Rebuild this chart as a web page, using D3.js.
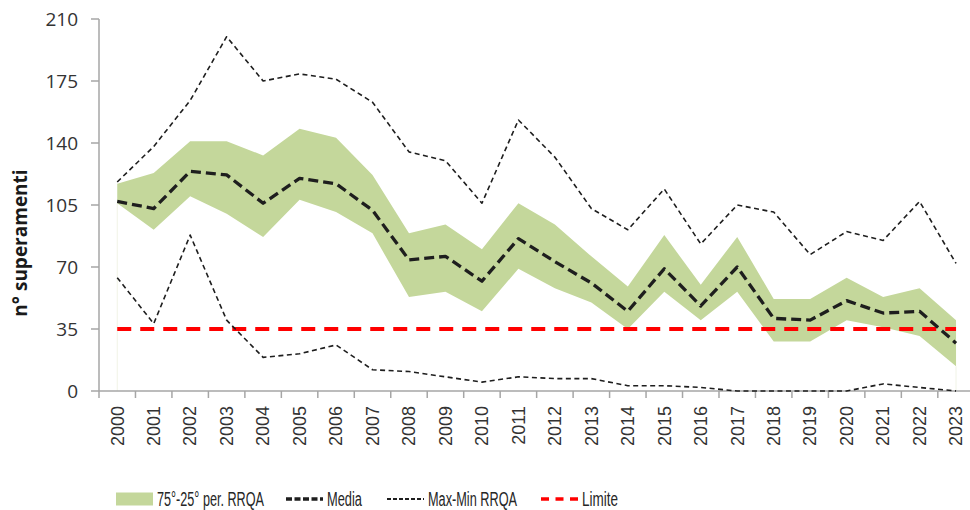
<!DOCTYPE html>
<html>
<head>
<meta charset="utf-8">
<script src="https://cdn.jsdelivr.net/npm/d3@7"></script>
<style>
  body { margin: 0; background: #fff; }
  svg { display: block; }
</style>
</head>
<body>
<div id="chart"></div>
<script>
const years = d3.range(2000, 2024).map(String);

// 75th and 25th percentile of the RRQA stations
const p75 = [117, 123, 141, 141, 133, 148, 143, 122, 89, 94, 80, 106, 94, 76, 59, 88, 60, 87, 52, 52, 64, 53, 58, 40];
const p25 = [106, 91, 110, 100, 87, 108, 101, 89, 53, 56, 45, 69, 58, 50, 35, 56, 40, 56, 28, 28, 40, 36, 31, 14];
const media = [107, 103, 124, 122, 106, 120, 117, 102, 74, 76, 62, 86, 73, 61, 45, 69, 48, 70, 41, 40, 51, 44, 45, 27];
const maxRRQA = [118, 138, 164, 200, 175, 179, 176, 163, 135, 130, 106, 153, 132, 103, 91, 114, 83, 105, 101, 77, 90, 85, 107, 72];
const minRRQA = [64, 38, 88, 40, 19, 21, 26, 12, 11, 8, 5, 8, 7, 7, 3, 3, 2, 0, 0, 0, 0, 4, 2, 0];
const limite = 35;

const yTicks = [0, 35, 70, 105, 140, 175, 210];
const legendItems = ["75°-25° per. RRQA", "Media", "Max-Min RRQA", "Limite"];

const width = 970,
  height = 510,
  plotLeft = 99,
  plotTop = 19,
  plotBottom = 391,
  step = 36.47;

const svg = d3
  .select("#chart")
  .append("svg")
  .attr("width", width)
  .attr("height", height);

const x = d3
  .scaleBand()
  .domain(years)
  .range([plotLeft, plotLeft + step * years.length]);

const y = d3.scaleLinear().domain([0, 210]).range([plotBottom, plotTop]);

const cx = (d) => x(d) + x.bandwidth() / 2;

const rows = years.map((d, i) => ({
  year: d,
  p75: p75[i],
  p25: p25[i],
  media: media[i],
  max: maxRRQA[i],
  min: minRRQA[i],
}));

// faint edges of the stacked area base
svg
  .selectAll(".edge")
  .data([rows[0], rows[rows.length - 1]])
  .join("line")
  .attr("x1", (d) => cx(d.year))
  .attr("x2", (d) => cx(d.year))
  .attr("y1", (d) => y(d.p25))
  .attr("y2", y(0))
  .style("stroke", "#f1f3e6")
  .style("stroke-width", 1);

// band
const area = d3
  .area()
  .x((d) => cx(d.year))
  .y0((d) => y(d.p25))
  .y1((d) => y(d.p75));

svg
  .append("path")
  .datum(rows)
  .attr("d", area)
  .style("fill", "#c4d79b");

// axes
const yAxis = svg.append("g");
yAxis
  .append("line")
  .attr("x1", plotLeft)
  .attr("x2", plotLeft)
  .attr("y1", y(210))
  .attr("y2", y(0))
  .style("stroke", "#a6a6a6")
  .style("stroke-width", 1.5);

yAxis
  .selectAll(".ytick")
  .data(yTicks)
  .join("line")
  .attr("x1", plotLeft - 8)
  .attr("x2", plotLeft)
  .attr("y1", (d) => y(d))
  .attr("y2", (d) => y(d))
  .style("stroke", "#a6a6a6")
  .style("stroke-width", 1.5);

yAxis
  .selectAll(".ylab")
  .data(yTicks)
  .join("text")
  .attr("x", plotLeft - 21)
  .attr("y", (d) => y(d))
  .attr("dy", "0.35em")
  .attr("text-anchor", "end")
  .style("font-family", "'Open Sans', sans-serif")
  .style("font-size", "19px")
  .style("fill", "#333")
  .text((d) => d);

const xAxis = svg.append("g");
xAxis
  .append("line")
  .attr("x1", plotLeft)
  .attr("x2", plotLeft + step * years.length)
  .attr("y1", y(0))
  .attr("y2", y(0))
  .style("stroke", "#a6a6a6")
  .style("stroke-width", 1.5);

xAxis
  .selectAll(".xtick")
  .data(years)
  .join("line")
  .attr("x1", (d) => x(d))
  .attr("x2", (d) => x(d))
  .attr("y1", y(0))
  .attr("y2", y(0) + 7)
  .style("stroke", "#a6a6a6")
  .style("stroke-width", 1.5);

xAxis
  .selectAll(".xlab")
  .data(years)
  .join("text")
  .attr("transform", (d) => `translate(${cx(d)},${y(0) + 15}) rotate(-90)`)
  .attr("dy", "0.35em")
  .attr("text-anchor", "end")
  .style("font-family", "'Liberation Sans', Arial, sans-serif")
  .style("font-size", "18px")
  .style("fill", "#333")
  .text((d) => d);

svg
  .append("text")
  .attr("transform", `translate(27,243) rotate(-90)`)
  .attr("text-anchor", "middle")
  .style("font-family", "'Open Sans', sans-serif")
  .style("font-size", "19px")
  .style("font-weight", "bold")
  .style("fill", "#1a1a1a")
  .text("n° superamenti");

// limit line
svg
  .append("line")
  .attr("x1", cx(years[0]))
  .attr("x2", cx(years[years.length - 1]))
  .attr("y1", y(limite))
  .attr("y2", y(limite))
  .style("stroke", "#ff0000")
  .style("stroke-width", 4)
  .style("stroke-dasharray", "14,9");

const line = (key) =>
  d3
    .line()
    .x((d) => cx(d.year))
    .y((d) => y(d[key]));

[
  { key: "max", w: 1.6, dash: "5,3.5" },
  { key: "min", w: 1.6, dash: "5,3.5" },
  { key: "media", w: 3.3, dash: "10,5" },
].forEach((s) => {
  svg
    .append("path")
    .datum(rows)
    .attr("d", line(s.key))
    .style("fill", "none")
    .style("stroke", "#1e1e1e")
    .style("stroke-width", s.w)
    .style("stroke-dasharray", s.dash)
    .style("stroke-linejoin", "round");
});

// legend
const legend = svg.append("g").attr("transform", "translate(0,499)");
const legendFont = "'Liberation Sans', Arial, sans-serif";

const item0 = legend.append("g").attr("transform", "translate(116,0)");
item0
  .append("rect")
  .attr("x", 0)
  .attr("y", -6.5)
  .attr("width", 37)
  .attr("height", 13)
  .style("fill", "#c4d79b");

const item1 = legend.append("g").attr("transform", "translate(286,0)");
item1
  .append("line")
  .attr("x1", 0)
  .attr("x2", 37)
  .style("stroke", "#1e1e1e")
  .style("stroke-width", 3.3)
  .style("stroke-dasharray", "6,2.5");

const item2 = legend.append("g").attr("transform", "translate(387,0)");
item2
  .append("line")
  .attr("x1", 0)
  .attr("x2", 37)
  .style("stroke", "#1e1e1e")
  .style("stroke-width", 1.8)
  .style("stroke-dasharray", "4,2");

const item3 = legend.append("g").attr("transform", "translate(541,0)");
item3
  .append("line")
  .attr("x1", 0)
  .attr("x2", 37)
  .style("stroke", "#ff0000")
  .style("stroke-width", 3.5)
  .style("stroke-dasharray", "8,6.5");

// the original legend font is condensed, so squeeze the text to its width
const legendTextW = [107, 35, 89, 36];
[item0, item1, item2, item3].forEach((g, i) => {
  g.append("text")
    .attr("x", 41)
    .attr("dy", "0.35em")
    .attr("textLength", legendTextW[i])
    .attr("lengthAdjust", "spacingAndGlyphs")
    .style("font-family", legendFont)
    .style("font-size", "20px")
    .style("fill", "#262626")
    .text(legendItems[i]);
});
</script>
</body>
</html>
